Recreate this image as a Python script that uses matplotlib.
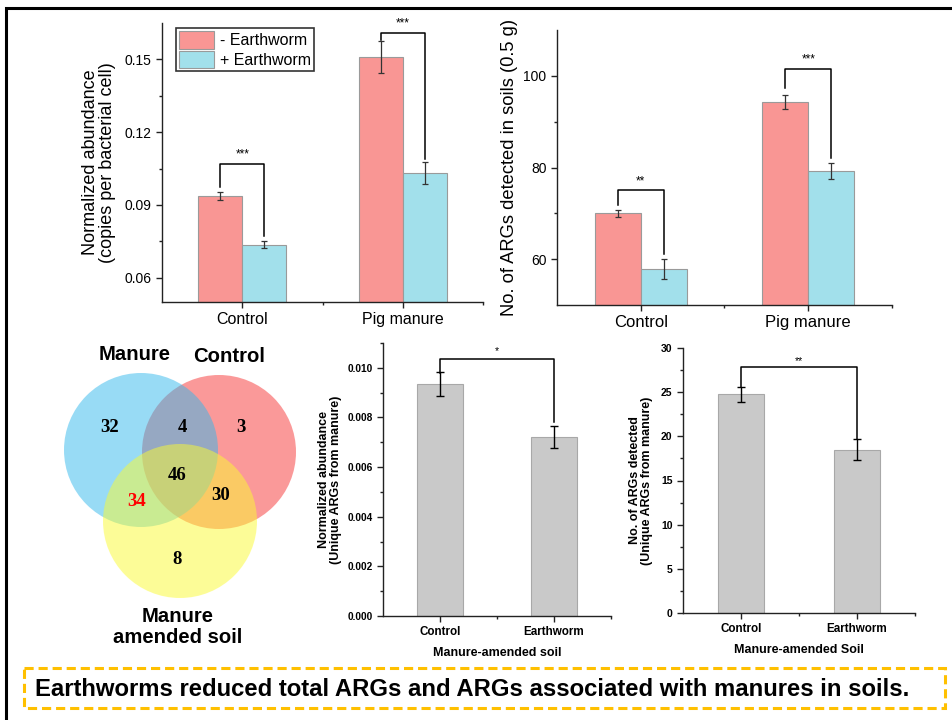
import numpy as np
import matplotlib
matplotlib.use("Agg")
import matplotlib.pyplot as plt
from matplotlib.patches import Circle, Rectangle
from matplotlib.ticker import FixedLocator, MultipleLocator, FormatStrFormatter

plt.rcParams['font.family'] = ['Liberation Sans', 'DejaVu Sans']

# ---- data ----
groups = ['Control', 'Pig manure']
series = ['- Earthworm', '+ Earthworm']

# panel a: normalized abundance
abund_minus = [0.0938, 0.1510]
abund_minus_err = [0.0016, 0.0065]
abund_plus = [0.0737, 0.1033]
abund_plus_err = [0.0013, 0.0046]
abund_sig = ['***', '***']
abund_brk = [(0.0972, 0.107, 0.0770), (0.1580, 0.161, 0.1090)]  # left leg end, top, right leg end

# panel b: number of ARGs
num_minus = [70.0, 94.3]
num_minus_err = [0.7, 1.5]
num_plus = [57.8, 79.2]
num_plus_err = [2.2, 1.7]
num_sig = ['**', '***']
num_brk = [(71.8, 75.0, 61.2), (97.3, 101.5, 82.0)]

# venn: Manure / Control / Manure amended soil
venn_sets = ['Manure', 'Control', 'Manure\namended soil']
venn_counts = {'M': 32, 'MC': 4, 'C': 3, 'MCS': 46, 'MS': 34, 'CS': 30, 'S': 8}

# panels d, e: unique ARGs from manure
treat = ['Control', 'Earthworm']
uniq_abund = [0.00935, 0.00721]
uniq_abund_err = [0.00047, 0.00045]
uniq_abund_brk = (0.0098, 0.01037, 0.0078)
uniq_num = [24.76, 18.5]
uniq_num_err = [0.82, 1.17]
uniq_num_brk = (25.6, 27.8, 19.7)

summary = 'Earthworms reduced total ARGs and ARGs associated with manures in soils.'

RED = '#F99694'
CYAN = '#A2E0EB'
GREY = '#C9C9C9'

W, H = 953, 720
fig = plt.figure(figsize=(W / 100, H / 100), dpi=100)

# overlay in pixel coordinates for frame, venn and summary box
ov = fig.add_axes([0, 0, 1, 1], zorder=0)
ov.set_xlim(0, W)
ov.set_ylim(H, 0)
ov.axis('off')
ov.plot([6.5, 6.5, W], [H, 8, 8], color='black', lw=2.2, solid_joinstyle='miter')


def px_axes(l, t, r, b):
    return fig.add_axes([l / W, 1 - b / H, (r - l) / W, (b - t) / H], zorder=2)


def bracket(ax, x0, x1, legs, text, fs, dy):
    yl, yt, yr = legs
    ax.plot([x0, x0, x1, x1], [yl, yt, yt, yr], color='black', lw=1.1)
    ax.text((x0 + x1) / 2, yt + dy, text, ha='center', va='bottom', fontsize=fs)


def style_axes(ax):
    for s in ['top', 'right']:
        ax.spines[s].set_visible(False)
    for s in ['left', 'bottom']:
        ax.spines[s].set_color('#222222')
        ax.spines[s].set_linewidth(1.0)
    ax.tick_params(which='major', direction='out', length=4, width=1, color='#222222')
    ax.tick_params(which='minor', direction='out', length=2.2, width=1, color='#222222')
    ax.set_xlim(-0.5, 1.5)
    ax.xaxis.set_minor_locator(FixedLocator([0.5, 1.5]))


# ---- panel a ----
x = np.arange(len(groups))
bw = 0.275
ax1 = px_axes(162, 23, 483, 302)
ax1.bar(x - bw / 2, abund_minus, bw, yerr=abund_minus_err, color=RED, edgecolor='#9a9a9a', lw=0.8,
        capsize=2.5, error_kw=dict(ecolor='#333333', elinewidth=0.9, capthick=0.9), label=series[0])
ax1.bar(x + bw / 2, abund_plus, bw, yerr=abund_plus_err, color=CYAN, edgecolor='#9a9a9a', lw=0.8,
        capsize=2.5, error_kw=dict(ecolor='#333333', elinewidth=0.9, capthick=0.9), label=series[1])
ax1.set_ylim(0.05, 0.165)
ax1.yaxis.set_major_locator(FixedLocator([0.06, 0.09, 0.12, 0.15]))
ax1.yaxis.set_minor_locator(FixedLocator([0.075, 0.105, 0.135]))
ax1.yaxis.set_major_formatter(FormatStrFormatter('%.2f'))
style_axes(ax1)
ax1.set_xticks(x)
ax1.set_xticklabels(groups, fontsize=11.5)
ax1.tick_params(axis='y', labelsize=10)
ax1.set_ylabel('Normalized abundance\n(copies per bacterial cell)', fontsize=13, linespacing=1.0, labelpad=6)
for i in range(len(groups)):
    bracket(ax1, x[i] - bw / 2, x[i] + bw / 2, abund_brk[i], abund_sig[i], 8.5, 0.0015)
leg = ax1.legend(loc='upper left', bbox_to_anchor=(0.044, 0.982), fontsize=11.5, frameon=True, fancybox=False,
                 edgecolor='black', handlelength=2.2, handleheight=1.3, labelspacing=0.12,
                 borderpad=0.2, handletextpad=0.35, borderaxespad=0)
leg.get_frame().set_linewidth(1.2)

# ---- panel b ----
ax2 = px_axes(557, 30, 892, 305)
ax2.bar(x - bw / 2, num_minus, bw, yerr=num_minus_err, color=RED, edgecolor='#9a9a9a', lw=0.8,
        capsize=2.5, error_kw=dict(ecolor='#333333', elinewidth=0.9, capthick=0.9))
ax2.bar(x + bw / 2, num_plus, bw, yerr=num_plus_err, color=CYAN, edgecolor='#9a9a9a', lw=0.8,
        capsize=2.5, error_kw=dict(ecolor='#333333', elinewidth=0.9, capthick=0.9))
ax2.set_ylim(50, 110)
ax2.yaxis.set_major_locator(FixedLocator([60, 80, 100]))
ax2.yaxis.set_minor_locator(FixedLocator([70, 90]))
style_axes(ax2)
ax2.set_xticks(x)
ax2.set_xticklabels(groups, fontsize=12)
ax2.tick_params(axis='y', labelsize=10)
ax2.set_ylabel('No. of ARGs detected in soils (0.5 g)', fontsize=13.2, labelpad=4)
for i in range(len(groups)):
    bracket(ax2, x[i] - bw / 2, x[i] + bw / 2, num_brk[i], num_sig[i], 8.5, 0.7)

# ---- venn ----
circ = {'C': (219, 452, 77, '#F73434'), 'M': (141, 450, 77, '#33B8EC'), 'S': (180, 521, 77, '#FBFB30')}
for k in ['C', 'M', 'S']:
    cx, cy, r, c = circ[k]
    ov.add_patch(Circle((cx, cy), r, facecolor=c, edgecolor='none', alpha=0.5))
venn_pos = {'M': (110, 427), 'MC': (182, 427), 'C': (241, 427), 'MCS': (177, 475),
            'MS': (137, 502), 'CS': (221, 495), 'S': (177, 560)}
for k, v in venn_counts.items():
    ov.text(*venn_pos[k], str(v), ha='center', va='center', fontsize=13.5, fontweight='bold',
            family='Liberation Serif', color='red' if k == 'MS' else 'black')
ov.text(135, 355, venn_sets[0], ha='center', va='center', fontsize=14.6, fontweight='bold')
ov.text(229, 356, venn_sets[1], ha='center', va='center', fontsize=14.6, fontweight='bold')
ov.text(178, 627, venn_sets[2], ha='center', va='center', fontsize=14.6, fontweight='bold', linespacing=1.15)

# ---- panel d ----
bw2 = 0.4
xt = np.arange(len(treat))
ax4 = px_axes(383, 343, 611, 616)
ax4.bar(xt, uniq_abund, bw2, yerr=uniq_abund_err, color=GREY, edgecolor='#a8a8a8', lw=0.8,
        capsize=3, error_kw=dict(ecolor='black', elinewidth=1.0, capthick=1.0))
ax4.set_ylim(0, 0.011)
ax4.yaxis.set_major_locator(MultipleLocator(0.002))
ax4.yaxis.set_minor_locator(MultipleLocator(0.001))
ax4.yaxis.set_major_formatter(FormatStrFormatter('%.3f'))
style_axes(ax4)
ax4.set_xticks(xt)
ax4.set_xticklabels(treat, fontsize=8.4, fontweight='bold')
for t in ax4.get_yticklabels():
    t.set_fontweight('bold')
ax4.tick_params(axis='y', labelsize=7.3)
ax4.set_ylabel('Normalized abundance\n(Unique ARGs from manure)', fontsize=9, fontweight='bold',
               linespacing=1.0, labelpad=4)
ax4.set_xlabel('Manure-amended soil', fontsize=9, fontweight='bold', labelpad=6)
bracket(ax4, xt[0], xt[1], uniq_abund_brk, '*', 7.5, 0.0001)

# ---- panel e ----
ax5 = px_axes(683, 348, 915, 613)
ax5.bar(xt, uniq_num, bw2, yerr=uniq_num_err, color=GREY, edgecolor='#a8a8a8', lw=0.8,
        capsize=3, error_kw=dict(ecolor='black', elinewidth=1.0, capthick=1.0))
ax5.set_ylim(0, 30)
ax5.yaxis.set_major_locator(MultipleLocator(5))
ax5.yaxis.set_minor_locator(MultipleLocator(2.5))
style_axes(ax5)
ax5.set_xticks(xt)
ax5.set_xticklabels(treat, fontsize=8.4, fontweight='bold')
for t in ax5.get_yticklabels():
    t.set_fontweight('bold')
ax5.tick_params(axis='y', labelsize=7.5)
ax5.set_ylabel('No. of ARGs detected\n(Unique ARGs from manure)', fontsize=9, fontweight='bold',
               linespacing=1.0, labelpad=6)
ax5.set_xlabel('Manure-amended Soil', fontsize=9, fontweight='bold', labelpad=6)
bracket(ax5, xt[0], xt[1], uniq_num_brk, '**', 7.5, 0.2)

# ---- summary box ----
ov.add_patch(Rectangle((24, 668), 921, 40, fill=False, edgecolor='#FFC000', lw=2.2,
                       linestyle=(0, (3, 1.6))))
ov.text(35, 689, summary, ha='left', va='center', fontsize=17.2, fontweight='bold')

fig.savefig('out.png', dpi=100)
